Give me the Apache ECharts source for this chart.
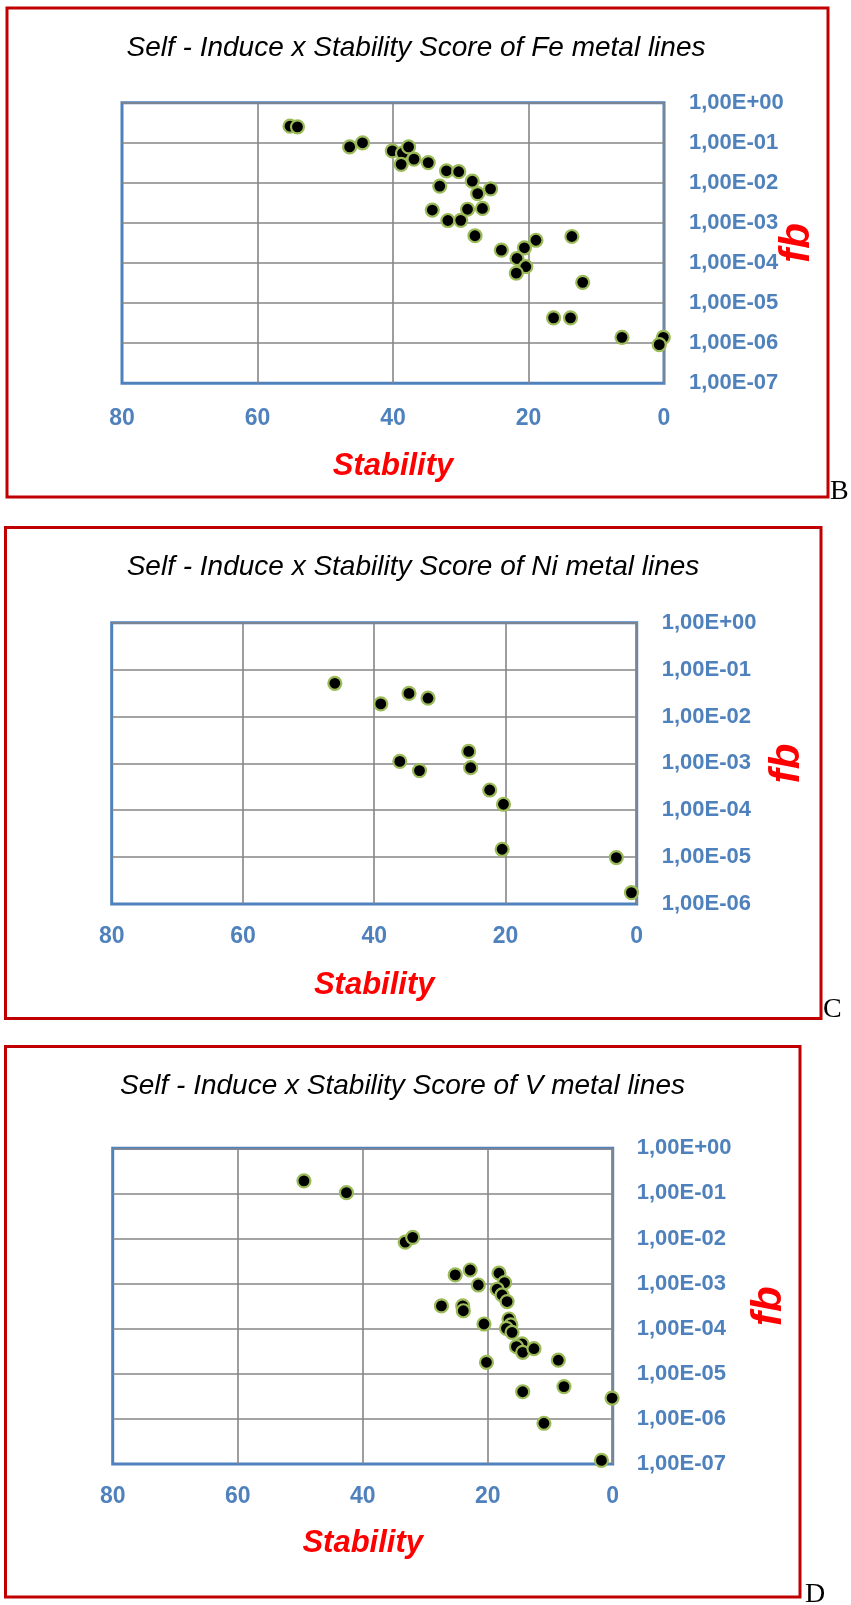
<!DOCTYPE html>
<html>
<head>
<meta charset="utf-8">
<script src="https://cdn.jsdelivr.net/npm/echarts@6/dist/echarts.min.js"></script>
<style>
  html, body { margin: 0; padding: 0; background: #ffffff; }
  #chart { width: 851px; height: 1605px; }
</style>
</head>
<body>
<div id="chart"></div>
<script>
// Fe lines: stability score and fb
const feStability = [55.2, 54.1, 46.4, 44.5, 40.1, 38.6, 37.7, 38.8, 36.9, 34.8, 32.1, 30.3, 33.1, 28.3, 27.5, 25.6,
  34.2, 31.9, 30.0, 29.0, 26.8, 27.9, 24.0, 18.9, 20.6, 21.7, 20.4, 21.8, 13.6, 12.0, 16.3, 13.8, 6.2, 0.1, 0.7];
const feFb = [0.26, 0.25, 0.079, 0.10, 0.063, 0.055, 0.079, 0.029, 0.039, 0.032, 0.020, 0.019, 0.0083, 0.011, 0.0054, 0.0071,
  0.0021, 0.00115, 0.00116, 0.0022, 0.0023, 0.00048, 0.00021, 0.00037, 0.00024, 0.00013, 0.000081, 0.000056, 0.00046, 0.000033,
  0.0000043, 0.0000043, 0.0000014, 0.0000014, 0.00000092];

// Ni lines
const niStability = [46.0, 39.0, 36.1, 34.7, 31.8, 33.1, 25.6, 25.3, 22.4, 20.3, 20.5, 3.1, 0.8];
const niFb = [0.051, 0.0185, 0.0011, 0.031, 0.0245, 0.00070, 0.0018, 0.00081, 0.00027, 0.000134, 0.0000147, 0.0000098, 0.00000175];

// V lines
const vStability = [49.4, 42.6, 33.2, 32.0, 25.2, 22.8, 21.5, 27.4, 24.0, 23.9, 20.6, 20.2, 18.2, 17.3, 18.5, 17.7,
  16.9, 16.6, 16.3, 17.0, 16.1, 14.5, 15.4, 14.4, 12.6, 8.7, 7.8, 14.4, 11.0, 0.1, 1.8];
const vFb = [0.19, 0.104, 0.0083, 0.0106, 0.00156, 0.0020, 0.00093, 0.00032, 0.00032, 0.00025, 0.000127, 0.000018, 0.0017, 0.00105, 0.00075, 0.00056,
  0.00040, 0.000164, 0.000121, 0.000102, 0.000083, 0.000046, 0.000040, 0.000030, 0.000036, 0.000020, 0.0000052, 0.0000040, 0.00000080, 0.0000029, 0.00000012];

const panelTitles = [
  'Self - Induce x Stability Score of Fe metal lines',
  'Self - Induce x Stability Score of Ni metal lines',
  'Self - Induce x Stability Score of V metal lines'
];
const panelLetters = ['B', 'C', 'D'];
const xTickValues = [80, 60, 40, 20, 0];
const xAxisTitle = 'Stability';
const yAxisTitle = 'fb';

// ---- styling ----
const BLUE = '#4f81bd';
const RED = '#ff0000';
const FRAME_RED = '#c00000';
const GRID_GRAY = '#868686';
const SANS = "'Liberation Sans', Arial, sans-serif";

function sciLabel(v) {
  const e = Math.round(Math.log10(v));
  const a = Math.abs(e);
  return '1,00E' + (e >= 0 ? '+' : '-') + (a < 10 ? '0' + a : String(a));
}

// panel geometry (px)
const panels = [
  { grid: { left: 122, top: 102.7, width: 542, height: 280.6 }, yMin: 1e-7, frame: [7, 8, 821, 489],
    titleX: 416, titleY: 34.5, letter: [830, 492], labelMargin: 25, xLabelMargin: 24, xNameGap: 68, yNameGap: 112,
    xs: feStability, ys: feFb },
  { grid: { left: 111.7, top: 622.7, width: 525, height: 281.3 }, yMin: 1e-6, frame: [5.5, 527.5, 815.5, 491],
    titleX: 413, titleY: 553.4, letter: [823, 1010], labelMargin: 25, xLabelMargin: 21, xNameGap: 66, yNameGap: 130,
    xs: niStability, ys: niFb },
  { grid: { left: 112.7, top: 1148.3, width: 500, height: 315.7 }, yMin: 1e-7, frame: [5.5, 1046.5, 794.5, 550.5],
    titleX: 402.5, titleY: 1072.4, letter: [805, 1595], labelMargin: 24, xLabelMargin: 21, xNameGap: 64, yNameGap: 136,
    xs: vStability, ys: vFb }
];

const option = {
  backgroundColor: '#ffffff',
  animation: false,
  title: panels.map((p, i) => ({
    text: panelTitles[i],
    left: p.titleX,
    top: p.titleY,
    textAlign: 'center',
    padding: 0,
    textStyle: { fontFamily: SANS, fontStyle: 'italic', fontWeight: 'normal', fontSize: 28, color: '#000000' }
  })),
  grid: panels.map(p => Object.assign({
    show: true, backgroundColor: '#ffffff', borderColor: BLUE, borderWidth: 3, containLabel: false
  }, p.grid)),
  xAxis: panels.map((p, i) => ({
    gridIndex: i,
    type: 'value',
    inverse: true,
    min: xTickValues[xTickValues.length - 1],
    max: xTickValues[0],
    interval: 20,
    axisLine: { show: false },
    axisTick: { show: false },
    axisLabel: { color: BLUE, fontFamily: SANS, fontWeight: 'bold', fontSize: 23, margin: p.xLabelMargin },
    splitLine: { show: true, showMaxLine: false, lineStyle: { color: GRID_GRAY, width: 1.6 } },
    name: xAxisTitle,
    nameLocation: 'middle',
    nameGap: p.xNameGap,
    nameMoveOverlap: false,
    nameTextStyle: { color: RED, fontFamily: SANS, fontWeight: 'bold', fontStyle: 'italic', fontSize: 31 }
  })),
  yAxis: panels.map((p, i) => ({
    gridIndex: i,
    type: 'log',
    logBase: 10,
    position: 'right',
    min: p.yMin,
    max: 1,
    interval: 1,
    axisLine: { show: false },
    axisTick: { show: false },
    axisLabel: { color: BLUE, fontFamily: SANS, fontWeight: 'bold', fontSize: 22, margin: p.labelMargin,
      formatter: sciLabel },
    splitLine: { show: true, showMinLine: false, lineStyle: { color: GRID_GRAY, width: 1.6 } },
    name: yAxisTitle,
    nameLocation: 'middle',
    nameRotate: 90,
    nameGap: p.yNameGap,
    nameMoveOverlap: false,
    nameTextStyle: { color: RED, fontFamily: SANS, fontWeight: 'bold', fontStyle: 'italic', fontSize: 42 }
  })),
  series: panels.map((p, i) => ({
    type: 'scatter',
    xAxisIndex: i,
    yAxisIndex: i,
    symbol: 'circle',
    symbolSize: 13,
    itemStyle: { color: '#000000', borderColor: '#9bbb59', borderWidth: 2.2, opacity: 1 },
    data: p.xs.map((x, k) => [x, p.ys[k]])
  })),
  graphic: panels.flatMap((p, i) => [
    { type: 'rect', silent: true, z: 100,
      shape: { x: p.frame[0], y: p.frame[1], width: p.frame[2], height: p.frame[3] },
      style: { fill: 'none', stroke: FRAME_RED, lineWidth: 3 } },
    { type: 'text', silent: true, x: p.letter[0], y: p.letter[1],
      style: { text: panelLetters[i], font: "28px 'Liberation Serif', 'Times New Roman', serif", fill: '#000000',
        textAlign: 'left', textVerticalAlign: 'middle', align: 'left', verticalAlign: 'middle' } }
  ])
};

const chart = echarts.init(document.getElementById('chart'), null, { renderer: 'canvas' });
chart.setOption(option);
</script>
</body>
</html>
